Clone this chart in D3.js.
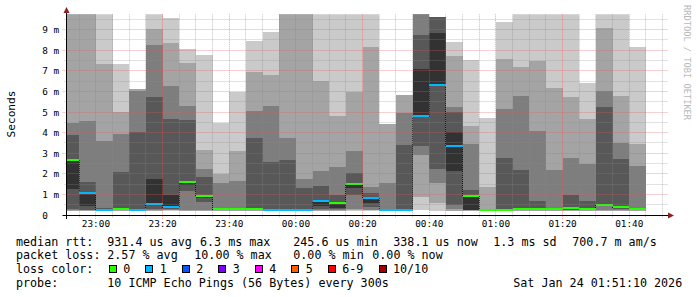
<!DOCTYPE html>
<html>
<head>
<meta charset="utf-8">
<script src="https://cdn.jsdelivr.net/npm/d3@7"></script>
<style>
body { margin: 0; background: #fff; }
text { font-family: "DejaVu Sans Mono", monospace; fill: #000; }
</style>
</head>
<body>
<script>
// smokeping style latency graph, 3 hours, 5 minute slots

var width = 697;
var height = 297;
var plotL = 66.5, plotR = 666.5, plotT = 14.3, plotB = 215.3;

// start of each 5 minute slot
var slots = ["22:50","22:55","23:00","23:05","23:10","23:15","23:20","23:25","23:30","23:35",
    "23:40","23:45","23:50","23:55","00:00","00:05","00:10","00:15","00:20","00:25",
    "00:30","00:35","00:40","00:45","00:50","00:55","01:00","01:05","01:10","01:15",
    "01:20","01:25","01:30","01:35","01:40"];

// 10 sorted ping times per slot (ms)
var pings = [
    [0.21,0.23,0.25,0.29,1.27,2.68,3.89,4.48,11,12],
    [0.20,0.22,0.24,0.26,0.45,1.10,1.60,4.56,11,12],
    [0.20,0.22,0.24,0.26,0.28,0.30,0.34,3.61,7.32,10.5],
    [0.20,0.23,0.25,0.28,0.30,0.34,2.08,3.94,5.02,7.32],
    [0.20,0.23,0.25,0.27,0.28,0.30,4.05,6.01,6.09,6.11],
    [0.21,0.23,0.26,0.29,0.56,1.76,5.71,8.24,9.02,11],
    [0.21,0.24,0.27,0.30,0.45,0.98,4.65,6.26,8.35,9.56],
    [0.21,0.23,0.26,1.18,1.47,1.60,4.61,5.29,7.35,8.03],
    [0.21,0.23,0.26,0.66,0.82,0.95,1.87,2.24,3.16,7.76],
    [0.21,0.23,0.25,0.27,0.28,0.30,0.32,1.58,1.98,4.48],
    [0.21,0.23,0.25,0.27,0.28,0.30,0.32,1.66,3.11,5.98],
    [0.21,0.23,0.26,0.28,0.30,0.32,3.76,5.05,6.95,8.45],
    [0.21,0.23,0.25,0.27,0.29,0.32,2.60,5.29,6.80,8.87],
    [0.21,0.23,0.25,0.27,0.28,0.30,2.68,3.76,10.5,11],
    [0.21,0.23,0.25,0.27,0.28,0.30,1.34,1.76,10.5,11],
    [0.21,0.23,0.26,0.29,0.44,0.69,1.42,2.15,6.52,11],
    [0.21,0.23,0.26,0.29,0.37,0.61,0.97,2.34,4.81,11],
    [0.21,0.25,0.29,0.98,1.34,1.55,2.03,3.11,5.98,11],
    [0.21,0.24,0.28,0.40,0.61,0.85,1.10,1.39,8.16,11],
    [0.21,0.23,0.25,0.26,0.27,0.28,0.29,1.58,4.42,4.43],
    [0.21,0.23,0.25,0.27,0.28,0.29,3.40,4.97,5.82,5.83],
    [0.27,0.90,2.92,3.36,4.81,7.06,8.72,10.5,11,12],
    [0.19,0.58,1.55,2.23,6.29,8.84,9.60,9.60,9.60,9.60],
    [0.20,0.23,0.29,0.50,2.15,4.05,5.02,5.26,7.71,8.40],
    [0.20,0.22,0.24,0.25,0.26,0.98,1.23,3.44,4.32,7.52],
    [0.20,0.22,0.24,0.25,0.26,0.27,0.28,0.29,1.39,4.73],
    [0.20,0.22,0.24,0.26,0.27,0.29,2.79,5.15,7.56,9.37],
    [0.20,0.22,0.24,0.26,0.28,0.30,2.19,5.77,7.19,11],
    [0.20,0.22,0.24,0.26,0.28,0.30,0.69,4.10,7.48,11],
    [0.20,0.22,0.24,0.26,0.28,0.30,0.37,2.19,6.18,11],
    [0.20,0.22,0.24,0.27,0.30,0.37,0.98,2.79,5.74,11],
    [0.20,0.22,0.24,0.27,0.29,0.34,0.69,2.50,4.65,6.42],
    [0.20,0.22,0.27,0.45,0.50,0.55,5.23,6.02,9.08,11],
    [0.20,0.22,0.26,0.29,0.35,0.45,2.73,3.52,5.77,11],
    [0.20,0.22,0.25,0.27,0.29,0.31,0.37,2.39,3.45,8.13]
];

// median rtt per slot (ms)
var median = [2.68,1.10,0.26,0.29,0.26,0.56,0.42,1.61,0.94,0.32,
    0.31,0.29,0.24,0.25,0.25,0.69,0.61,1.53,0.85,0.26,
    0.24,4.81,6.29,3.37,0.94,0.26,0.27,0.31,0.30,0.29,
    0.35,0.31,0.52,0.42,0.32];

// lost pings out of 10 per slot
var lost = [0,1,1,0,1,1,1,0,0,0,0,0,1,1,1,1,0,0,1,1,
    1,1,1,1,0,0,0,0,0,0,0,0,0,0,0];

var lossLabels = ["0","1","2","3","4","5","6-9","10/10"];
var lossColors = ["#26ff00","#00b8ff","#0059ff","#7e00ff","#ff00ff","#ff5e00","#ff0000","#a10000"];

var yTicks = [0,1,2,3,4,5,6,7,8,9];
var xTicks = ["23:00","23:20","23:40","00:00","00:20","00:40","01:00","01:20","01:40"];

var medianStats = ["931.4 us avg","6.3 ms max","245.6 us min","338.1 us now","1.3 ms sd","700.7 m am/s"];
var lossStats = ["2.57 % avg","10.00 % max","0.00 % min","0.00 % now"];
var probeText = "10 ICMP Echo Pings (56 Bytes) every 300s";
var stamp = "Sat Jan 24 01:51:10 2026";

// outer smoke layer is lightest
var greys = ["#cacaca","#a4a4a4","#7e7e7e","#585858","#323232"];

function slotDate(s) {
    var h = +s.slice(0, 2), m = +s.slice(3);
    return new Date(2026, 0, h >= 12 ? 23 : 24, h, m);
}
function lossIndex(n) {
    if (n >= 10) return 7;
    if (n >= 6) return 6;
    return n;
}
var step = 5 * 60 * 1000;

var svg = d3.select("body").append("svg")
    .attr("width", width)
    .attr("height", height)
    .style("display", "block");

svg.append("rect")
    .attr("width", width)
    .attr("height", height)
    .attr("fill", "#ffffff");

var x = d3.scaleTime()
    .domain([new Date(2026, 0, 23, 22, 51, 10), new Date(2026, 0, 24, 1, 51, 10)])
    .range([plotL, plotR]);
var y = d3.scaleLinear()
    .domain([0, 9.73])
    .range([plotB, plotT]);

svg.append("clipPath").attr("id", "plot")
    .append("rect")
    .attr("x", plotL)
    .attr("y", plotT)
    .attr("width", plotR - plotL)
    .attr("height", plotB - plotT);

var data = slots.map(function (s, i) {
    var t = slotDate(s);
    return {t0: t, t1: new Date(+t + step), p: pings[i], med: median[i], loss: lost[i]};
});

//smoke
var smoke = svg.append("g")
    .attr("clip-path", "url(#plot)")
    .attr("shape-rendering", "crispEdges");

var slotGroup = smoke.selectAll(".slot").data(data);
slotGroup.enter().append("g").classed("slot", true)
    .each(function (d) {
        d3.select(this).selectAll("rect").data(greys)
            .enter().append("rect")
            .attr("x", x(d.t0))
            .attr("width", x(d.t1) - x(d.t0))
            .attr("y", function (g, k) { return y(d.p[9 - k]); })
            .attr("height", function (g, k) { return y(d.p[k]) - y(d.p[9 - k]); })
            .attr("fill", function (g) { return g; });
    });

//median step, dotted
var stepPts = data.map(function (d) { return [d.t0, d.med]; });
stepPts.push([data[data.length - 1].t1, median[median.length - 1]]);
smoke.append("path")
    .attr("d", d3.line()
        .x(function (d) { return x(d[0]); })
        .y(function (d) { return Math.round(y(d[1])) + 0.5; })
        .curve(d3.curveStepAfter)(stepPts))
    .attr("fill", "none")
    .attr("stroke", "#000")
    .attr("stroke-width", 1)
    .attr("stroke-dasharray", "1,1");

//median coloured by loss
smoke.selectAll(".med").data(data).enter().append("rect").classed("med", true)
    .attr("x", function (d) { return x(d.t0); })
    .attr("width", function (d) { return x(d.t1) - x(d.t0); })
    .attr("y", function (d) { return Math.round(y(d.med)) - 1; })
    .attr("height", 2)
    .attr("fill", function (d) { return lossColors[lossIndex(d.loss)]; });

//grid
var grid = svg.append("g").attr("fill", "none").attr("stroke-width", 1)
    .attr("stroke-dasharray", "1,1");
var minorY = d3.range(1, 20).map(function (k) { return k / 2; });
grid.selectAll(".hgrid").data(minorY).enter().append("line").classed("hgrid", true)
    .attr("x1", function (v) { return v % 1 === 0 ? plotL - 4 : plotL - 2; })
    .attr("x2", plotR + 1)
    .attr("y1", function (v) { return Math.floor(y(v)) + 0.5; })
    .attr("y2", function (v) { return Math.floor(y(v)) + 0.5; })
    .attr("stroke", function (v) {
        return v % 1 === 0 ? "rgba(229,89,89,0.55)" : "rgba(140,140,140,0.5)";
    });

var minorX = d3.timeMinute.every(5).range(new Date(2026, 0, 23, 22, 55), new Date(2026, 0, 24, 1, 51));
grid.selectAll(".vgrid").data(minorX).enter().append("line").classed("vgrid", true)
    .attr("x1", function (t) { return Math.floor(x(t)) + 0.5; })
    .attr("x2", function (t) { return Math.floor(x(t)) + 0.5; })
    .attr("y1", plotT)
    .attr("y2", function (t) { return t.getMinutes() % 20 === 0 ? plotB + 4 : plotB + 2; })
    .attr("stroke", function (t) {
        return t.getMinutes() % 20 === 0 ? "rgba(229,89,89,0.55)" : "rgba(140,140,140,0.5)";
    });

//axes
svg.append("line")
    .attr("x1", plotL - 4).attr("x2", 669)
    .attr("y1", 215.5).attr("y2", 215.5)
    .attr("stroke", "#000");
svg.append("line")
    .attr("x1", 66.5).attr("x2", 66.5)
    .attr("y1", 219).attr("y2", 11)
    .attr("stroke", "#000");
svg.append("path")
    .attr("d", "M668,212.5L674,215.5L668,218.5Z")
    .attr("fill", "#8f1f1f");
svg.append("path")
    .attr("d", "M63.5,13L66.5,7L69.5,13Z")
    .attr("fill", "#8f1f1f");

//axis labels
svg.selectAll(".ylab").data(yTicks).enter().append("text").classed("ylab", true)
    .attr("x", 42.3)
    .attr("y", function (v) { return y(v) + 3.5; })
    .style("font-size", "9.4px")
    .text(function (v) { return v === 0 ? "0" : v + " m"; });

var fmt = d3.timeFormat("%H:%M");
svg.selectAll(".xlab").data(xTicks).enter().append("text").classed("xlab", true)
    .attr("x", function (s) { return x(slotDate(s)) ; })
    .attr("y", 227)
    .attr("text-anchor", "middle")
    .style("font-size", "9.4px")
    .text(function (s) { return s; });

svg.append("text")
    .attr("transform", "translate(15,114) rotate(-90)")
    .attr("text-anchor", "middle")
    .style("font-size", "11.2px")
    .text("Seconds");

svg.append("text")
    .attr("transform", "translate(684,5) rotate(90)")
    .style("font-size", "8.7px")
    .style("fill", "#b8b8b8")
    .text("RRDTOOL / TOBI OETIKER");

//legend
var fs = "11.7px";
var rows = [245.5, 258.8, 273, 286.7];
svg.append("text").attr("x", 16).attr("y", rows[0]).style("font-size", fs).text("median rtt:");
svg.append("text").attr("x", 16).attr("y", rows[1]).style("font-size", fs).text("packet loss:");
svg.append("text").attr("x", 16).attr("y", rows[2]).style("font-size", fs).text("loss color:");
svg.append("text").attr("x", 16).attr("y", rows[3]).style("font-size", fs).text("probe:");

var medX = [107.3, 200, 293.3, 393.3, 493.3, 572.3];
svg.selectAll(".mstat").data(medianStats).enter().append("text").classed("mstat", true)
    .attr("x", function (s, i) { return medX[i]; })
    .attr("y", rows[0])
    .style("font-size", fs)
    .text(function (s) { return s; });

var lossX = [107.3, 194.3, 293.3, 372.3];
svg.selectAll(".lstat").data(lossStats).enter().append("text").classed("lstat", true)
    .attr("x", function (s, i) { return lossX[i]; })
    .attr("y", rows[1])
    .style("font-size", fs)
    .text(function (s) { return s; });

var cw = 7.15, bx = 108.7, boxes = [];
lossLabels.forEach(function (l, i) {
    boxes.push({x: bx, label: l, color: lossColors[i]});
    bx += 14.5 + l.length * cw + 14.85;
});
var key = svg.selectAll(".key").data(boxes).enter().append("g").classed("key", true);
key.append("rect")
    .attr("x", function (d) { return Math.round(d.x) + 0.5; })
    .attr("y", 265.5)
    .attr("width", 7)
    .attr("height", 7)
    .attr("fill", function (d) { return d.color; })
    .attr("stroke", "#000");
key.append("text")
    .attr("x", function (d) { return d.x + 14.5; })
    .attr("y", rows[2])
    .style("font-size", fs)
    .text(function (d) { return d.label; });

svg.append("text").attr("x", 107.3).attr("y", rows[3]).style("font-size", fs).text(probeText);
svg.append("text").attr("x", 513.3).attr("y", rows[3]).style("font-size", fs).text(stamp);
</script>
</body>
</html>
